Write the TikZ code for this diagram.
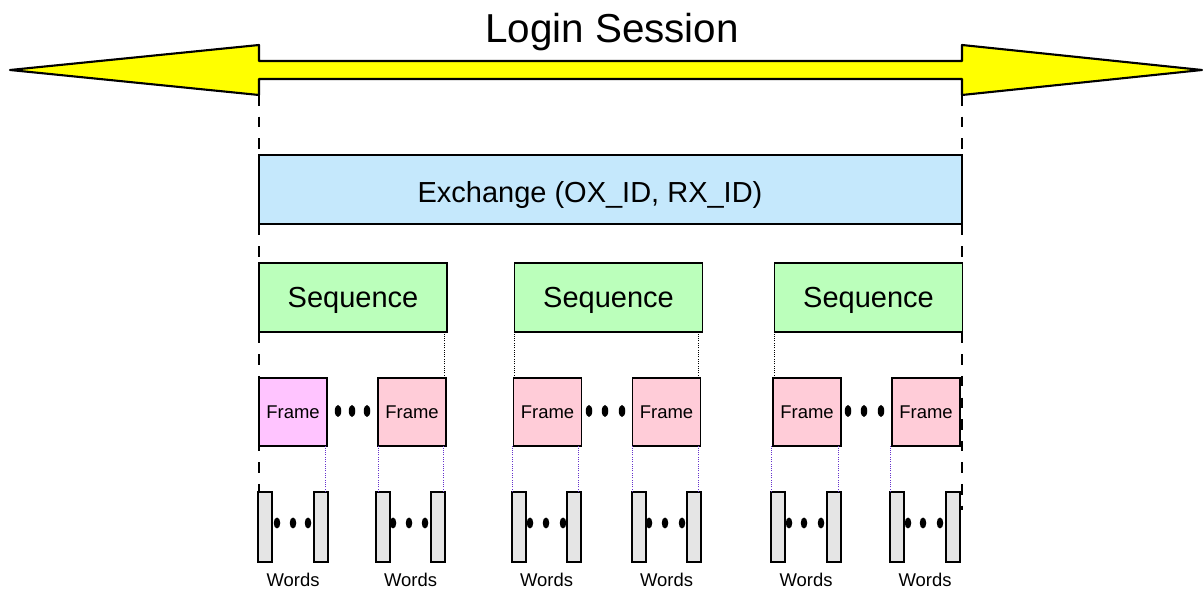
\documentclass[tikz,border=0pt]{standalone}
\usepackage{fontspec}
\setmainfont{Liberation Sans}
\definecolor{arrowyellow}{HTML}{FFFF00}
\definecolor{exblue}{HTML}{C5E8FC}
\definecolor{seqgreen}{HTML}{BBFFBB}
\definecolor{framelilac}{HTML}{FFC4FF}
\definecolor{framepink}{HTML}{FFCCD8}
\definecolor{wordgray}{HTML}{E5E5E5}
\definecolor{linkviolet}{HTML}{6633CC}
\begin{document}
\begin{tikzpicture}[x=0.02cm, y=-0.02cm,
  dims/.style 2 args={minimum width=#1*0.02cm, minimum height=#2*0.02cm},
  capcenter/.style={text height=#1, text depth=0pt, inner sep=0pt, outer sep=0pt},
  bigfont/.style={font=\fontsize{23}{28}\selectfont, capcenter=16.5pt},
  midfont/.style={font=\fontsize{16.5}{20}\selectfont, capcenter=11.8pt},
  smallfont/.style={font=\fontsize{10.5}{12}\selectfont, capcenter=7.5pt},
  boxbase/.style={draw, line width=1.1pt},
  exbox/.style={boxbase, fill=exblue, inner sep=0pt, outer sep=0pt},
  seqbox/.style={boxbase, fill=seqgreen, dims={188}{69}, midfont},
  framebox/.style={boxbase, dims={68}{68}, smallfont},
  wordbar/.style={draw, line width=1.1pt, fill=wordgray, inner sep=0pt, outer sep=0pt, dims={14}{70}},
  sessionline/.style={line width=1.2pt, dash pattern=on 6pt off 6.3pt},
  seqlink/.style={line width=0.5pt, dash pattern=on 0.6pt off 0.7pt},
  framelink/.style={line width=0.5pt, linkviolet, dash pattern=on 0.6pt off 0.7pt},
  dot/.style={fill=black}
]
\useasboundingbox (0,0) rectangle (1203,590);

% session arrow end points
\coordinate (lb) at (259,95);
\coordinate (rb) at (962,95);
\coordinate (rend) at (962,510);

% double-headed session arrow
\draw[line width=1.2pt, fill=arrowyellow, line join=round]
  (10,70) -- (259,45) -- (259,61) -- (962,61) -- (962,45) -- (1202,70)
  -- (rb) -- (962,79) -- (259,79) -- (lb) -- cycle;
\node[bigfont] (title) at (612,28) {Login Session};

% word bars
\foreach \i/\lx in {1/258,2/314,3/376,4/431,5/512,6/567,7/632,8/687,9/771,10/827,11/890,12/946}
  \node[wordbar] (w\i) at (\lx+7,527) {};

% session boundaries
\draw[sessionline] (lb) -- (lb |- w1.north);
\draw[sessionline] (rb) -- (rend);

% exchange
\node[exbox, dims={703}{69}] (ex) at (610.5,189.5) {};
\node[midfont] (exlabel) at (590,192) {Exchange (OX\_ID, RX\_ID)};

% sequences
\node[seqbox] (s1) at (353,297.5) {Sequence};
\node[seqbox] (s2) at (608.5,297.5) {Sequence};
\node[seqbox] (s3) at (868.5,297.5) {Sequence};

% frames
\foreach \i/\cx/\col in {1/293/framelilac,2/412/framepink,3/547.5/framepink,4/666.5/framepink,5/807/framepink,6/926/framepink}
  \node[framebox, fill=\col] (f\i) at (\cx,412) {Frame};

% sequence to frame links
\draw[seqlink] ([xshift=-0.04cm]f2.north east) -- ([xshift=-0.04cm]f2.north east |- s1.south);
\draw[seqlink] ([xshift=0.02cm]f3.north west) -- ([xshift=0.02cm]f3.north west |- s2.south);
\draw[seqlink] ([xshift=-0.05cm]f4.north east) -- ([xshift=-0.05cm]f4.north east |- s2.south);
\draw[seqlink] ([xshift=0.02cm]f5.north west) -- ([xshift=0.02cm]f5.north west |- s3.south);

% frame to word links
\foreach \w/\f/\a/\s in {2/1/north east/-0.06cm, 3/2/north west/0.04cm, 4/2/north east/-0.04cm,
    5/3/north west/0.01cm, 6/3/north east/-0.05cm, 7/4/north west/0.01cm, 8/4/north east/-0.05cm,
    9/5/north west/0.01cm, 10/5/north east/-0.05cm, 11/6/north west/0.0cm}
  \draw[framelink] ([xshift=\s]w\w.\a) -- ([xshift=\s]w\w.\a |- f\f.south);

% ellipsis dots between frames
\foreach \x in {338,352,367, 589,605,622, 848,864,881}
  \fill[dot] (\x,411) ellipse [x radius=0.065cm, y radius=0.12cm];

% ellipsis dots between words
\foreach \x in {277,293,308, 393,409,425, 530,546,563, 649,665,682, 789,804,821, 908,923,940}
  \fill[dot] (\x,523) ellipse [x radius=0.065cm, y radius=0.11cm];

% word labels
\foreach \i/\cx in {1/293,2/410.5,3/546.5,4/666.5,5/806,6/925}
  \node[smallfont] (wl\i) at (\cx,580) {Words};
\end{tikzpicture}
\end{document}
